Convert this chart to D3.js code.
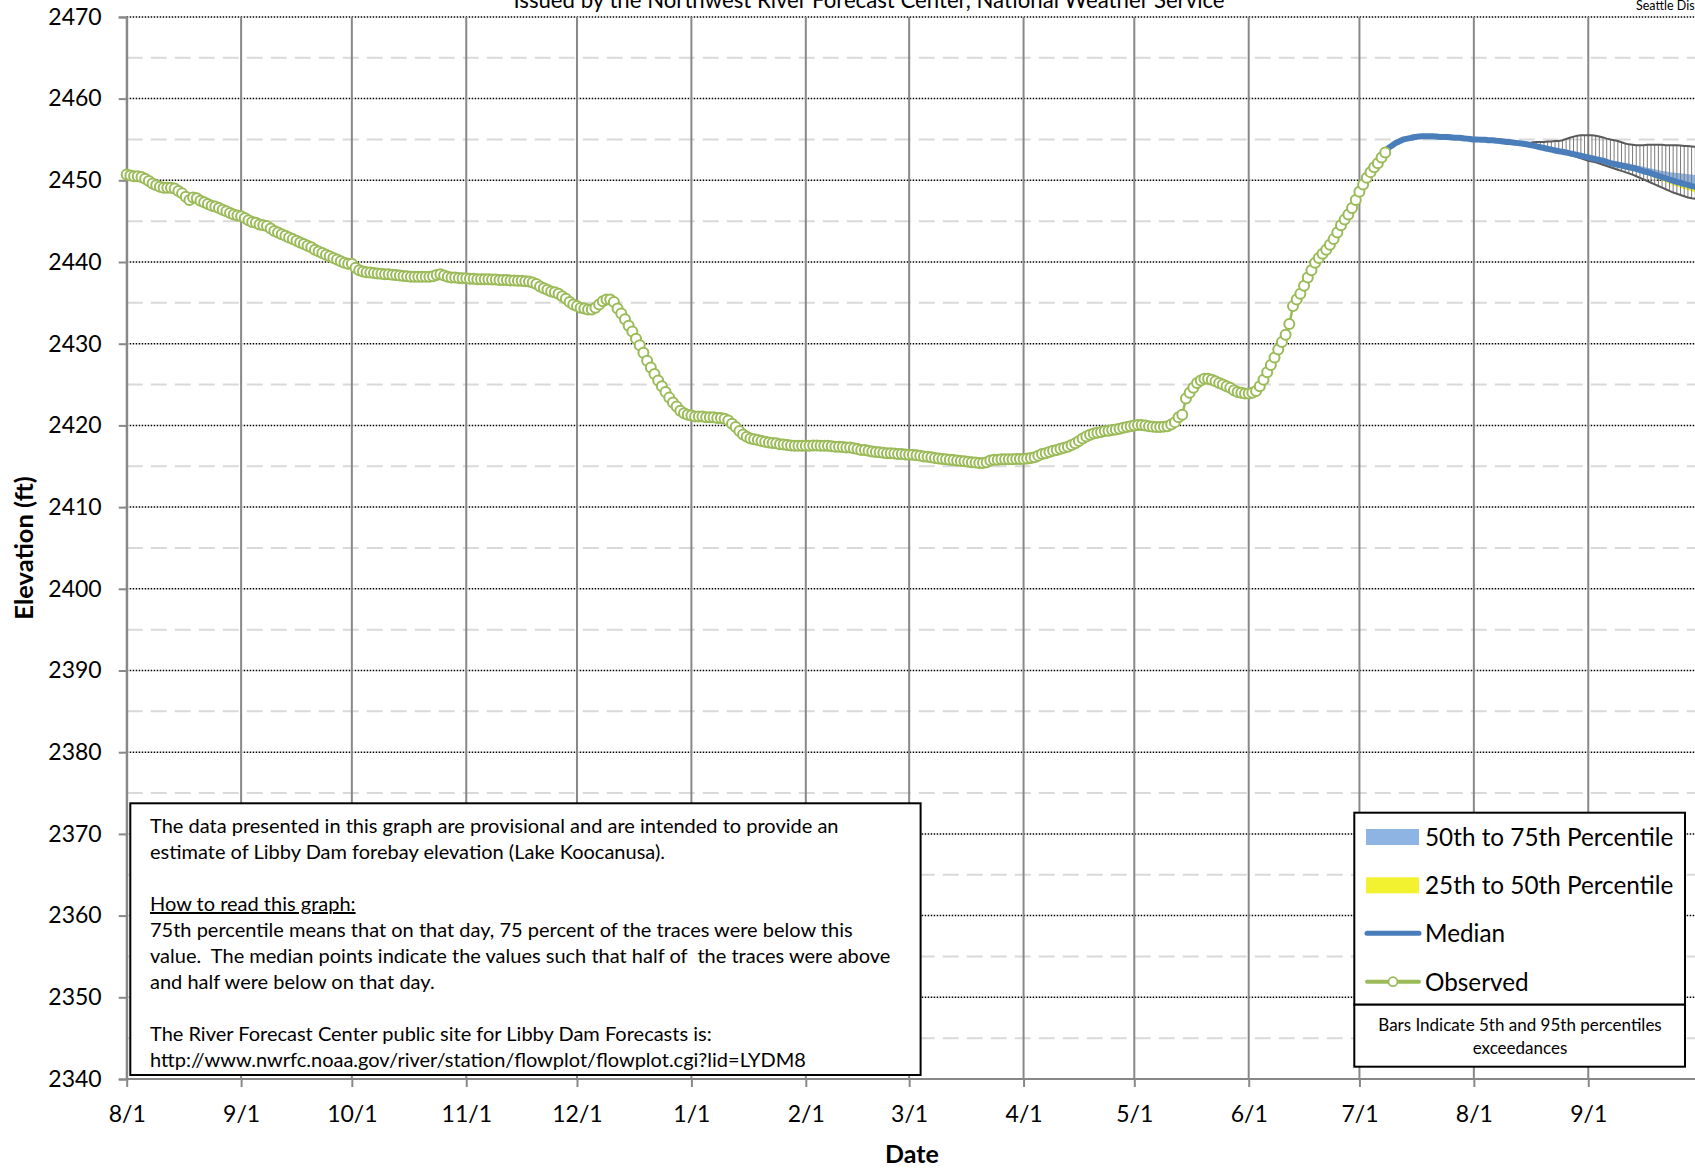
<!DOCTYPE html>
<html><head><meta charset="utf-8">
<script src="https://cdn.jsdelivr.net/npm/d3@7"></script>
<style>
html,body{margin:0;padding:0;background:#fff;}
svg{display:block;}
text{font-family:Lato,"Open Sans",sans-serif;fill:#000;}
</style></head><body>
<svg id="chart" width="1695" height="1168"></svg>
<script>
// ---------------- DATA ----------------
const observedStart = "2022-08-01";
const observed = [
2450.7,2450.6,2450.5,2450.5,2450.4,2450.2,2449.9,2449.6,2449.4,2449.2,
2449.1,2449.1,2449.1,2449.0,2448.7,2448.4,2448.0,2447.6,2447.9,2447.8,
2447.5,2447.3,2447.1,2446.9,2446.8,2446.6,2446.4,2446.2,2446.0,2445.8,
2445.7,2445.6,2445.4,2445.1,2444.9,2444.8,2444.6,2444.5,2444.4,2444.1,
2443.8,2443.6,2443.4,2443.2,2443.0,2442.8,2442.6,2442.4,2442.2,2442.0,
2441.8,2441.5,2441.3,2441.1,2440.9,2440.7,2440.5,2440.3,2440.1,2439.9,
2439.8,2439.8,2439.3,2439.0,2438.85,2438.75,2438.7,2438.65,2438.6,2438.55,
2438.5,2438.5,2438.45,2438.4,2438.35,2438.3,2438.25,2438.2,2438.2,2438.2,
2438.2,2438.2,2438.2,2438.25,2438.4,2438.5,2438.35,2438.2,2438.1,2438.1,
2438.05,2438.0,2438.0,2437.95,2437.95,2437.9,2437.9,2437.9,2437.9,2437.85,
2437.85,2437.8,2437.8,2437.8,2437.75,2437.75,2437.7,2437.7,2437.65,2437.6,
2437.5,2437.3,2437.0,2436.8,2436.6,2436.4,2436.3,2436.1,2435.8,2435.5,
2435.1,2434.8,2434.6,2434.4,2434.3,2434.2,2434.2,2434.4,2434.8,2435.2,
2435.4,2435.4,2435.1,2434.3,2433.7,2433.0,2432.2,2431.5,2430.6,2429.8,
2428.9,2427.9,2427.1,2426.3,2425.5,2424.8,2424.1,2423.4,2422.8,2422.3,
2421.8,2421.5,2421.3,2421.2,2421.1,2421.1,2421.1,2421.0,2421.0,2421.0,
2420.9,2420.9,2420.8,2420.6,2420.2,2419.8,2419.3,2418.9,2418.6,2418.4,
2418.3,2418.2,2418.1,2418.0,2417.9,2417.85,2417.8,2417.7,2417.65,2417.6,
2417.55,2417.5,2417.5,2417.5,2417.5,2417.5,2417.55,2417.55,2417.5,2417.5,
2417.5,2417.45,2417.4,2417.4,2417.35,2417.3,2417.3,2417.2,2417.1,2417.0,
2417.0,2416.9,2416.8,2416.75,2416.7,2416.65,2416.6,2416.6,2416.55,2416.5,
2416.5,2416.45,2416.4,2416.4,2416.35,2416.3,2416.2,2416.15,2416.1,2416.0,
2415.95,2415.9,2415.85,2415.8,2415.75,2415.7,2415.65,2415.6,2415.55,2415.5,
2415.45,2415.4,2415.4,2415.5,2415.7,2415.8,2415.8,2415.85,2415.85,2415.85,
2415.85,2415.9,2415.9,2415.9,2415.95,2416.0,2416.1,2416.3,2416.5,2416.6,
2416.75,2416.9,2417.0,2417.15,2417.25,2417.4,2417.6,2417.8,2418.1,2418.4,
2418.65,2418.85,2419.0,2419.1,2419.2,2419.3,2419.35,2419.45,2419.5,2419.6,
2419.7,2419.8,2419.9,2420.0,2420.05,2420.05,2420.0,2419.9,2419.85,2419.8,
2419.8,2419.85,2419.9,2420.1,2420.4,2421.0,2421.3,2423.3,2424.0,2424.6,
2425.2,2425.5,2425.7,2425.7,2425.6,2425.4,2425.2,2425.0,2424.8,2424.6,
2424.3,2424.1,2424.0,2423.9,2423.9,2424.0,2424.2,2424.8,2425.6,2426.5,
2427.4,2428.3,2429.3,2430.2,2431.1,2432.4,2434.6,2435.4,2436.1,2437.1,
2438.1,2439.0,2439.9,2440.5,2441.0,2441.5,2442.1,2442.8,2443.6,2444.5,
2445.2,2445.8,2446.6,2447.6,2448.6,2449.5,2450.3,2451.0,2451.6,2452.1,
2452.8,2453.4
];

const forecastStart = "2023-07-08";
const median = [
2453.6,2454.0,2454.3,2454.6,2454.8,2455.0,2455.1,2455.2,2455.3,2455.35,
2455.4,2455.4,2455.4,2455.4,2455.35,2455.3,2455.3,2455.3,2455.25,2455.2,
2455.2,2455.15,2455.1,2455.05,2455.0,2455.0,2454.95,2454.95,2454.9,2454.9,
2454.85,2454.8,2454.75,2454.7,2454.65,2454.6,2454.55,2454.5,2454.45,2454.35,
2454.25,2454.15,2454.05,2453.95,2453.85,2453.75,2453.65,2453.55,2453.5,2453.4,
2453.3,2453.2,2453.1,2453.0,2452.9,2452.8,2452.7,2452.6,2452.5,2452.4,
2452.25,2452.1,2452.0,2451.9,2451.8,2451.7,2451.6,2451.5,2451.4,2451.25,
2451.1,2451.0,2450.85,2450.7,2450.55,2450.4,2450.25,2450.1,2449.95,2449.8,
2449.7,2449.55,2449.45,2449.3,2449.2,2449.05
];
const p75 = [
2453.6,2454.0,2454.3,2454.6,2454.8,2455.0,2455.1,2455.2,2455.3,2455.35,
2455.4,2455.4,2455.4,2455.4,2455.35,2455.3,2455.3,2455.3,2455.25,2455.2,
2455.2,2455.15,2455.1,2455.05,2455.0,2455.0,2454.95,2454.95,2454.9,2454.9,
2454.85,2454.8,2454.75,2454.7,2454.65,2454.6,2454.55,2454.5,2454.45,2454.35,
2454.25,2454.15,2454.05,2453.95,2453.85,2453.75,2453.65,2453.55,2453.5,2453.4,
2453.3,2453.2,2453.1,2453.0,2452.9,2452.8,2452.7,2452.6,2452.6,2452.55,
2452.5,2452.4,2452.35,2452.3,2452.2,2452.15,2452.05,2451.95,2451.85,2451.75,
2451.65,2451.55,2451.45,2451.35,2451.25,2451.15,2451.1,2451.0,2450.95,2450.9,
2450.85,2450.8,2450.75,2450.7,2450.65,2450.6
];
const p25 = [
2453.6,2454.0,2454.3,2454.6,2454.8,2455.0,2455.1,2455.2,2455.3,2455.35,
2455.4,2455.4,2455.4,2455.4,2455.35,2455.3,2455.3,2455.3,2455.25,2455.2,
2455.2,2455.15,2455.1,2455.05,2455.0,2455.0,2454.95,2454.95,2454.9,2454.9,
2454.85,2454.8,2454.75,2454.7,2454.65,2454.6,2454.55,2454.5,2454.45,2454.35,
2454.25,2454.15,2454.05,2453.95,2453.85,2453.75,2453.65,2453.55,2453.5,2453.4,
2453.3,2453.2,2453.1,2453.0,2452.9,2452.8,2452.7,2452.6,2452.5,2452.4,
2452.25,2452.1,2452.0,2451.9,2451.8,2451.6,2451.45,2451.3,2451.15,2451.0,
2450.8,2450.65,2450.45,2450.3,2450.1,2449.95,2449.75,2449.6,2449.4,2449.25,
2449.1,2448.95,2448.8,2448.65,2448.5,2448.35
];
const p95 = [
2453.6,2454.0,2454.3,2454.6,2454.8,2455.0,2455.1,2455.2,2455.3,2455.35,
2455.4,2455.4,2455.4,2455.4,2455.35,2455.3,2455.3,2455.3,2455.25,2455.2,
2455.2,2455.15,2455.1,2455.05,2455.0,2455.0,2454.95,2454.95,2454.9,2454.9,
2454.85,2454.8,2454.75,2454.7,2454.65,2454.6,2454.55,2454.5,2454.5,2454.55,
2454.65,2454.7,2454.7,2454.7,2454.75,2454.75,2454.8,2454.8,2454.9,2455.05,
2455.2,2455.35,2455.45,2455.5,2455.5,2455.5,2455.5,2455.45,2455.35,2455.25,
2455.1,2455.0,2454.9,2454.8,2454.65,2454.5,2454.4,2454.35,2454.3,2454.3,
2454.3,2454.35,2454.35,2454.35,2454.35,2454.35,2454.3,2454.3,2454.3,2454.3,
2454.25,2454.2,2454.2,2454.15,2454.1,2454.1
];
const p05 = [
2453.6,2454.0,2454.3,2454.6,2454.8,2455.0,2455.1,2455.2,2455.3,2455.35,
2455.4,2455.4,2455.4,2455.4,2455.35,2455.3,2455.3,2455.3,2455.25,2455.2,
2455.2,2455.15,2455.1,2455.05,2455.0,2455.0,2454.95,2454.95,2454.9,2454.9,
2454.85,2454.8,2454.75,2454.7,2454.65,2454.6,2454.55,2454.5,2454.45,2454.35,
2454.25,2454.15,2454.05,2453.9,2453.8,2453.65,2453.55,2453.45,2453.35,2453.25,
2453.1,2453.0,2452.85,2452.7,2452.55,2452.4,2452.3,2452.2,2452.05,2451.9,
2451.75,2451.6,2451.45,2451.3,2451.15,2451.0,2450.85,2450.7,2450.5,2450.3,
2450.1,2449.9,2449.7,2449.5,2449.3,2449.1,2448.9,2448.7,2448.5,2448.35,
2448.2,2448.05,2447.9,2447.8,2447.75,2447.7
];

const yTicks = [2340,2350,2360,2370,2380,2390,2400,2410,2420,2430,2440,2450,2460,2470];
const yMinor = [2345,2355,2365,2375,2385,2395,2405,2415,2425,2435,2445,2455,2465];
const xTickLabels = ["8/1","9/1","10/1","11/1","12/1","1/1","2/1","3/1","4/1","5/1","6/1","7/1","8/1","9/1"];
const xDomain = ["2022-08-01","2023-09-30"];

const titleText = "Issued by the Northwest River Forecast Center, National Weather Service";
const cornerText = "Seattle District";
const yLabel = "Elevation (ft)";
const xLabel = "Date";
const legendLabels = ["50th to 75th Percentile","25th to 50th Percentile","Median","Observed"];
const legendNote = ["Bars Indicate 5th and 95th percentiles","exceedances"];
const noteLines = [
 "The data presented in this graph are provisional and are intended to provide an",
 "estimate of Libby Dam forebay elevation (Lake Koocanusa).",
 "",
 "How to read this graph:",
 "75th percentile means that on that day, 75 percent of the traces were below this",
 "value.  The median points indicate the values such that half of  the traces were above",
 "and half were below on that day.",
 "",
 "The River Forecast Center public site for Libby Dam Forecasts is:",
 "http://www.nwrfc.noaa.gov/river/station/flowplot/flowplot.cgi?lid=LYDM8"
];

// ---------------- COLORS ----------------
const C = {green:"#9BBB59", blue:"#4A7EBB", lightBlue:"#8EB4E3", yellow:"#F2F230",
           grid:"#888888", minor:"#D9D9D9", bar:"#7A7A7A", barEdge:"#5A5A5A"};

// ---------------- SCALES ----------------
const parse = d3.utcParse("%Y-%m-%d");
const svg = d3.select("#chart");
svg.append("rect").attr("width",1695).attr("height",1168).attr("fill","#fff");

const x = d3.scaleUtc().domain(xDomain.map(parse)).range([126.7, 1695.3]);
const y = d3.scaleLinear().domain([2340, 2470]).range([1079, 16.9]);

const obs = observed.map((v,i)=>({date:d3.utcDay.offset(parse(observedStart), i), v}));
const fStart = parse(forecastStart);
const fc = median.map((v,i)=>({date:d3.utcDay.offset(fStart,i), med:v, p75:p75[i], p25:p25[i], p95:p95[i], p05:p05[i]}));

const x0 = x.range()[0], x1 = 1695;

// ---------------- GRID ----------------
const g = svg.append("g");
g.selectAll(".minor").data(yMinor).join("line")
  .attr("x1", x0).attr("x2", x1).attr("y1", d=>y(d)).attr("y2", d=>y(d))
  .attr("stroke", C.minor).attr("stroke-width", 2).attr("stroke-dasharray","16,8");
g.selectAll(".major").data(yTicks.filter(d=>d>2340)).join("line")
  .attr("x1", x0).attr("x2", x1).attr("y1", d=>y(d)).attr("y2", d=>y(d))
  .attr("stroke", "#000").attr("stroke-width", 1.5).attr("stroke-dasharray","1.5,1.5");
const months = d3.utcMonth.range(parse(xDomain[0]), d3.utcDay.offset(parse(xDomain[1]),1));
g.selectAll(".vg").data(months).join("line")
  .attr("x1", d=>x(d)).attr("x2", d=>x(d)).attr("y1", y(2470)).attr("y2", y(2340))
  .attr("stroke", C.grid).attr("stroke-width", 2);

// ---------------- AXES ----------------
const yAxis = svg.append("g").attr("transform",`translate(${x0},0)`)
  .call(d3.axisLeft(y).tickValues(yTicks).tickSize(8).tickPadding(17).tickFormat(d3.format("d")));
const xAxis = svg.append("g").attr("transform",`translate(0,${y(2340)})`)
  .call(d3.axisBottom(x).tickValues(months).tickSize(8).tickPadding(18.5).tickFormat((d,i)=>xTickLabels[i]));
[yAxis,xAxis].forEach(a=>{
  a.select(".domain").attr("stroke", C.grid).attr("stroke-width",2);
  a.selectAll(".tick line").attr("stroke", C.grid).attr("stroke-width",2);
  a.selectAll(".tick text").attr("font-family","Lato, 'Open Sans', sans-serif").attr("font-size",23).attr("fill","#000");
});
xAxis.select(".domain").attr("d", `M${x0},0H${x1}`);

// ---------------- FORECAST ----------------
const plot = svg.append("g");
plot.append("path").datum(fc)
  .attr("d", d3.area().x(d=>x(d.date)).y0(d=>y(d.med)).y1(d=>y(d.p75)))
  .attr("fill", C.lightBlue);
plot.append("path").datum(fc)
  .attr("d", d3.area().x(d=>x(d.date)).y0(d=>y(d.p25)).y1(d=>y(d.med)))
  .attr("fill", C.yellow);
plot.selectAll(".hl").data(fc).join("line")
  .attr("x1", d=>x(d.date)).attr("x2", d=>x(d.date))
  .attr("y1", d=>y(d.p95)).attr("y2", d=>y(d.p05))
  .attr("stroke", C.bar).attr("stroke-width", 1);
["p95","p05"].forEach(k=>{
  plot.append("path").datum(fc)
    .attr("d", d3.line().x(d=>x(d.date)).y(d=>y(d[k])))
    .attr("fill","none").attr("stroke", C.barEdge).attr("stroke-width", 2);
});
plot.append("path").datum(fc)
  .attr("d", d3.line().x(d=>x(d.date)).y(d=>y(d.med)).curve(d3.curveMonotoneX))
  .attr("fill","none").attr("stroke", C.blue).attr("stroke-width", 6)
  .attr("stroke-linejoin","round");

// ---------------- OBSERVED ----------------
plot.append("path").datum(obs)
  .attr("d", d3.line().x(d=>x(d.date)).y(d=>y(d.v)))
  .attr("fill","none").attr("stroke", C.green).attr("stroke-width", 2.5);
plot.selectAll(".obs").data(obs).join("circle")
  .attr("cx", d=>x(d.date)).attr("cy", d=>y(d.v)).attr("r", 5)
  .attr("fill","#fff").attr("stroke", C.green).attr("stroke-width", 2);

// ---------------- TITLES ----------------
svg.append("text").attr("x", 869).attr("y", 7.5).attr("text-anchor","middle")
  .attr("font-size", 22.2).text(titleText);
svg.append("text").attr("x", 1636).attr("y", 9.5)
  .attr("font-family","'Liberation Sans', Arial, sans-serif").attr("font-size", 12.5).text(cornerText);
svg.append("text").attr("transform","translate(33,548) rotate(-90)").attr("text-anchor","middle")
  .attr("font-size", 25.5).attr("font-weight","bold").text(yLabel);
svg.append("text").attr("x", 912).attr("y", 1163).attr("text-anchor","middle")
  .attr("font-size", 25).attr("font-weight","bold").text(xLabel);

// ---------------- NOTE BOX ----------------
const nb = svg.append("g");
nb.append("rect").attr("x",130.3).attr("y",803.3).attr("width",790.3).attr("height",271.7)
  .attr("fill","#fff").attr("stroke","#000").attr("stroke-width",2);
noteLines.forEach((t,i)=>{
  if(!t) return;
  const tx = nb.append("text").attr("x",150).attr("y",833 + i*26).attr("font-size",20)
    .attr("xml:space","preserve").style("white-space","pre").text(t);
  if(i===3) tx.attr("text-decoration","underline");
});

// ---------------- LEGEND ----------------
const lg = svg.append("g");
lg.append("rect").attr("x",1354.3).attr("y",812.7).attr("width",330.7).attr("height",192)
  .attr("fill","#fff").attr("stroke","#000").attr("stroke-width",2);
lg.append("rect").attr("x",1354.3).attr("y",1004.7).attr("width",330.7).attr("height",62)
  .attr("fill","#fff").attr("stroke","#000").attr("stroke-width",2);
const rowY = [837, 885.3, 933.3, 981.7];
lg.append("rect").attr("x",1366).attr("y",rowY[0]-8).attr("width",53).attr("height",16).attr("fill",C.lightBlue);
lg.append("rect").attr("x",1366).attr("y",rowY[1]-8).attr("width",53).attr("height",16).attr("fill",C.yellow);
lg.append("line").attr("x1",1367).attr("x2",1419).attr("y1",rowY[2]).attr("y2",rowY[2])
  .attr("stroke",C.blue).attr("stroke-width",5).attr("stroke-linecap","round");
lg.append("line").attr("x1",1367).attr("x2",1419).attr("y1",rowY[3]).attr("y2",rowY[3])
  .attr("stroke",C.green).attr("stroke-width",4).attr("stroke-linecap","round");
lg.append("circle").attr("cx",1393).attr("cy",rowY[3]).attr("r",4.5)
  .attr("fill","#fff").attr("stroke",C.green).attr("stroke-width",1.8);
legendLabels.forEach((t,i)=>{
  lg.append("text").attr("x",1425).attr("y",rowY[i]+8.8).attr("font-size",24.3).text(t);
});
legendNote.forEach((t,i)=>{
  lg.append("text").attr("x",1520).attr("y",1031 + i*22.6).attr("text-anchor","middle")
    .attr("font-size",17).text(t);
});
</script>
</body></html>
